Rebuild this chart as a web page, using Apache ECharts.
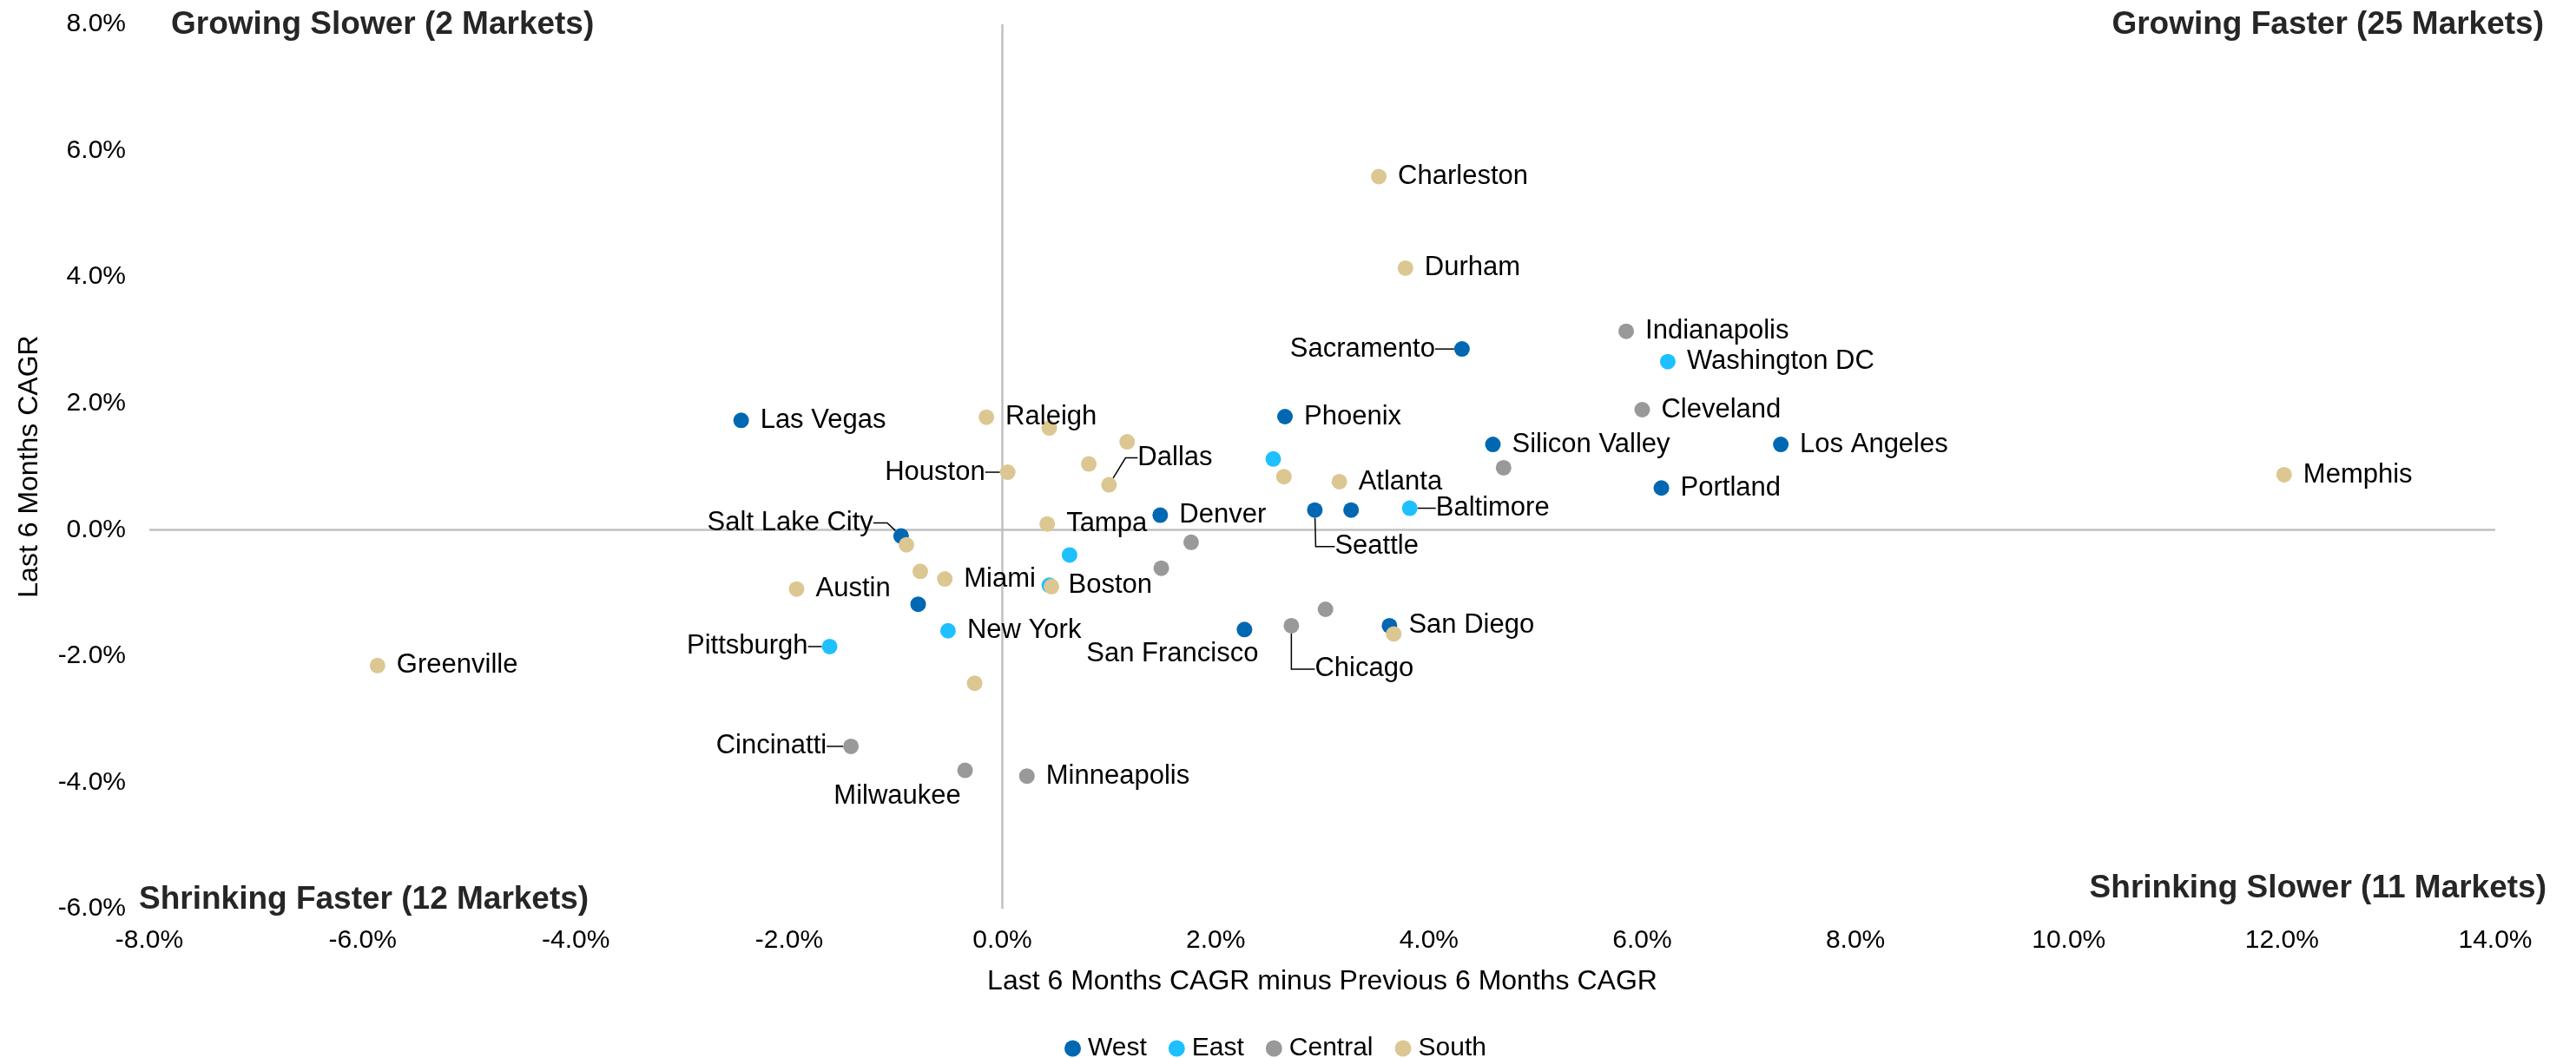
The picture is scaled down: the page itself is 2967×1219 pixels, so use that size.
<!DOCTYPE html>
<html>
<head>
<meta charset="utf-8">
<script src="https://cdn.jsdelivr.net/npm/echarts@6/dist/echarts.min.js"></script>
<style>
  html, body { margin: 0; padding: 0; background: #fff; }
  #chart { width: 2967px; height: 1219px; }
</style>
</head>
<body>
<div id="chart"></div>
<script>
// [x = last 6m CAGR minus previous 6m CAGR (%), y = last 6m CAGR (%), market]
const west = [
  [-2.45, 1.73, 'Las Vegas'],
  [4.31, 2.86, 'Sacramento'],
  [2.65, 1.79, 'Phoenix'],
  [4.60, 1.35, 'Silicon Valley'],
  [7.30, 1.35, 'Los Angeles'],
  [6.18, 0.66, 'Portland'],
  [1.48, 0.23, 'Denver'],
  [2.93, 0.31, 'Seattle'],
  [3.27, 0.31, ''],
  [-0.95, -0.10, 'Salt Lake City'],
  [-0.79, -1.18, ''],
  [2.27, -1.58, 'San Francisco'],
  [3.63, -1.52, 'San Diego']
];
const east = [
  [6.24, 2.66, 'Washington DC'],
  [2.54, 1.12, ''],
  [3.82, 0.34, 'Baltimore'],
  [0.63, -0.40, ''],
  [0.44, -0.88, 'Boston'],
  [-0.51, -1.60, 'New York'],
  [-1.62, -1.85, 'Pittsburgh']
];
const central = [
  [5.85, 3.14, 'Indianapolis'],
  [6.00, 1.90, 'Cleveland'],
  [4.70, 0.98, ''],
  [1.77, -0.20, ''],
  [1.49, -0.61, ''],
  [2.71, -1.52, 'Chicago'],
  [3.03, -1.26, ''],
  [-1.42, -3.43, 'Cincinatti'],
  [-0.35, -3.81, 'Milwaukee'],
  [0.23, -3.90, 'Minneapolis']
];
const south = [
  [3.53, 5.59, 'Charleston'],
  [3.78, 4.14, 'Durham'],
  [12.02, 0.87, 'Memphis'],
  [-0.15, 1.78, 'Raleigh'],
  [0.44, 1.61, ''],
  [1.17, 1.39, ''],
  [0.81, 1.04, ''],
  [1.00, 0.71, 'Dallas'],
  [0.05, 0.91, 'Houston'],
  [2.64, 0.84, ''],
  [3.16, 0.76, 'Atlanta'],
  [0.42, 0.09, 'Tampa'],
  [-0.90, -0.24, ''],
  [-0.77, -0.66, ''],
  [-0.54, -0.78, 'Miami'],
  [0.46, -0.90, ''],
  [-1.93, -0.94, 'Austin'],
  [3.67, -1.65, ''],
  [-5.86, -2.15, 'Greenville'],
  [-0.26, -2.43, '']
];

const regionNames = ['West', 'East', 'Central', 'South'];
const regionColors = ['#0067b3', '#1fc0ff', '#999999', '#dcc793'];
const regionPoints = [west, east, central, south];

const xTicks = { min: -8, max: 14, step: 2 };
const yTicks = { min: -6, max: 8, step: 2 };

const quadrantTitles = [
  'Growing Slower (2 Markets)',
  'Growing Faster (25 Markets)',
  'Shrinking Faster (12 Markets)',
  'Shrinking Slower (11 Markets)'
];

// labels that are moved off the default "right of the dot" spot (offset from dot centre)
const moved = {
  'Sacramento': { dx: -31, dy: 0, align: 'right', line: 0 },
  'Houston': { dx: -26, dy: 0, align: 'right', line: 0 },
  'Salt Lake City': { dx: -32, dy: -15, align: 'right', line: 16 },
  'Pittsburgh': { dx: -25, dy: 0, align: 'right', line: 0 },
  'Cincinatti': { dx: -28, dy: 0, align: 'right', line: 0 },
  'Baltimore': { dx: 30, dy: 0, align: 'left', line: 0 },
  'Seattle': { dx: 23, dy: 42, align: 'left', line: 22 },
  'Chicago': { dx: 27, dy: 50, align: 'left', line: 27 },
  'Dallas': { dx: 33, dy: -31, align: 'left', line: 14 },
  'Milwaukee': { dx: -78, dy: 30, align: 'center' },
  'San Francisco': { dx: -83, dy: 28, align: 'center' }
};

const FONT = '"Liberation Sans", Arial, sans-serif';
const pct = v => v.toFixed(1) + '%';

const chart = echarts.init(document.getElementById('chart'));

const series = regionPoints.map((pts, si) => ({
  name: regionNames[si],
  type: 'scatter',
  symbolSize: 18,
  itemStyle: { color: regionColors[si], opacity: 1 },
  data: pts.map(p => {
    const m = moved[p[2]];
    return {
      value: [p[0], p[1]],
      name: p[2],
      label: { show: p[2] !== '' },
      labelLine: m && m.line != null
        ? { show: true, length2: m.line, lineStyle: { color: '#000', width: 1.5 } }
        : { show: false }
    };
  }),
  label: {
    position: 'right',
    distance: 13,
    formatter: '{b}',
    color: '#000',
    fontSize: 31,
    fontFamily: FONT
  },
  labelLine: {
    show: false,
    lineStyle: { color: '#000', width: 1.5 }
  },
  labelLayout: params => {
    const m = moved[pts[params.dataIndex][2]];
    if (!m) return;
    const cx = params.rect.x + params.rect.width / 2;
    const cy = params.rect.y + params.rect.height / 2;
    return { x: cx + m.dx, y: cy + m.dy, align: m.align, verticalAlign: 'middle' };
  },
  emphasis: { disabled: true },
  markLine: si === 0 ? {
    z: 1,
    silent: true,
    symbol: 'none',
    label: { show: false },
    lineStyle: { color: '#c0c0c0', width: 2.5, type: 'solid' },
    data: [{ xAxis: 0 }, { yAxis: 0 }]
  } : undefined
}));

chart.setOption({
  animation: false,
  backgroundColor: '#fff',
  textStyle: { fontFamily: FONT },
  grid: { left: 172, right: 93, top: 28, bottom: 172 },
  xAxis: {
    type: 'value',
    min: xTicks.min, max: xTicks.max, interval: xTicks.step,
    name: 'Last 6 Months CAGR minus Previous 6 Months CAGR',
    nameLocation: 'middle',
    nameGap: 68,
    nameTextStyle: { fontSize: 32, color: '#000', fontFamily: FONT },
    axisLine: { show: false, onZero: false },
    axisTick: { show: false },
    splitLine: { show: false },
    axisLabel: { formatter: pct, fontSize: 30, color: '#000', margin: 22, fontFamily: FONT }
  },
  yAxis: {
    type: 'value',
    min: yTicks.min, max: yTicks.max, interval: yTicks.step,
    name: 'Last 6 Months CAGR',
    nameLocation: 'middle',
    nameGap: 122,
    nameTextStyle: { fontSize: 32, color: '#000', fontFamily: FONT },
    axisLine: { show: false, onZero: false },
    axisTick: { show: false },
    splitLine: { show: false },
    axisLabel: { formatter: pct, fontSize: 30, color: '#000', margin: 27, fontFamily: FONT }
  },
  legend: {
    data: regionNames,
    left: 1221,
    top: 1188,
    icon: 'circle',
    itemWidth: 19,
    itemHeight: 19,
    itemGap: 25,
    textStyle: { fontSize: 30, color: '#000', fontFamily: FONT, padding: [0, 0, 0, 3] }
  },
  graphic: [
    { type: 'text', x: 197, y: 29, style: { text: quadrantTitles[0], font: 'bold 37px ' + FONT, fill: '#262626', align: 'left', verticalAlign: 'middle', textAlign: 'left', textVerticalAlign: 'middle' } },
    { type: 'text', x: 2930, y: 29, style: { text: quadrantTitles[1], font: 'bold 37px ' + FONT, fill: '#262626', align: 'right', verticalAlign: 'middle', textAlign: 'right', textVerticalAlign: 'middle' } },
    { type: 'text', x: 160, y: 1037, style: { text: quadrantTitles[2], font: 'bold 37px ' + FONT, fill: '#262626', align: 'left', verticalAlign: 'middle', textAlign: 'left', textVerticalAlign: 'middle' } },
    { type: 'text', x: 2933, y: 1024, style: { text: quadrantTitles[3], font: 'bold 37px ' + FONT, fill: '#262626', align: 'right', verticalAlign: 'middle', textAlign: 'right', textVerticalAlign: 'middle' } }
  ],
  series: series
});
</script>
</body>
</html>
